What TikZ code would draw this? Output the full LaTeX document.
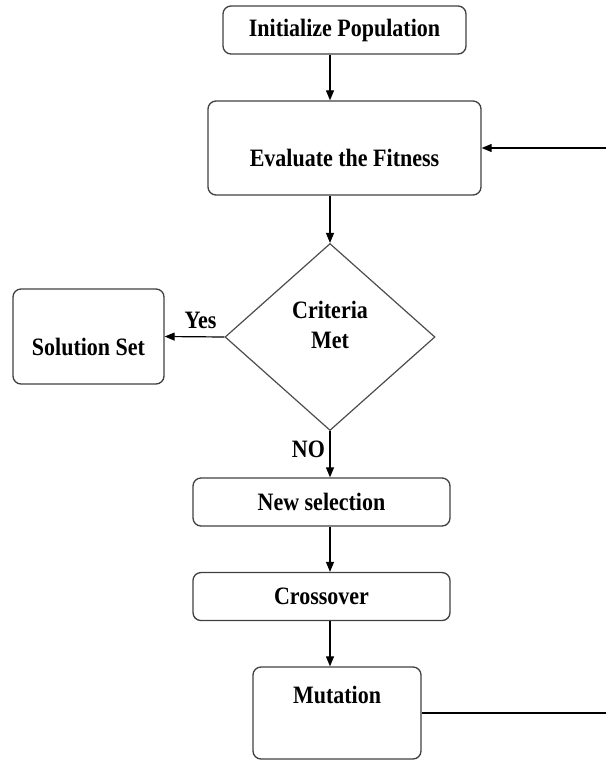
\documentclass[tikz,border=0pt]{standalone}
\usepackage{fontspec}
\setmainfont{Liberation Serif}[FakeStretch=0.88]
\usetikzlibrary{shapes.geometric,arrows.meta}

\tikzset{
  box/.style={draw=black!75, line width=1pt, rounded corners=6pt, inner sep=0pt},
  test/.style={diamond, draw=black!70, line width=0.9pt, inner sep=0pt},
  flow/.style={-{Triangle[length=7.5pt,width=6pt]}, line width=0.9pt},
}

\begin{document}
\begin{tikzpicture}[x=0.75pt,y=-0.75pt,font=\fontsize{18.75}{22.5}\selectfont\bfseries]
\useasboundingbox (0,0) rectangle (606,760);
\node [box, minimum width=182.25pt, minimum height=36pt] (init) at (344.5,30) {Initialize Population};
\node [box, below of=init, node distance=88.5pt, minimum width=204.75pt, minimum height=70.5pt,
       label={[yshift=-7.5pt]center:Evaluate the Fitness}] (eval) {};
\node [test, minimum width=157.5pt, minimum height=140.25pt,
       label={[yshift=9pt,align=center]center:Criteria\\Met}] (crit) at (330,337) {};
\node [box, minimum width=113.25pt, minimum height=71.25pt,
       label={[yshift=-7.5pt]center:Solution Set}] (sol) at (88.5,336.5) {};
\node [box, minimum width=192.75pt, minimum height=36pt] (sel) at (321.5,502) {New selection};
\node [box, below of=sel, node distance=70.9pt, minimum width=192.75pt, minimum height=36pt] (cross) {Crossover};
\node [box, minimum width=126pt, minimum height=69pt,
       label={[yshift=13.5pt]center:Mutation}] (mut) at (337,713) {};
% loop back, its upright part lies past the right edge
\coordinate (fbbot) at (609,713);
\coordinate (fbtop) at (609,148);
\draw [flow] (init.south -| crit.north) -- (eval.north -| crit.north);
\draw [flow] (eval.south -| crit.north) -- (crit.north);
\draw [flow] (crit.west) -- node [above, pos=0.4, yshift=2pt] (yes) {Yes} (sol.east);
\draw [flow] (crit.south) -- node [left, pos=0.4] (no) {NO} (sel.north -| crit.south);
\draw [flow] (sel.south -| crit.south) -- (cross.north -| crit.south);
\draw [flow] (cross.south -| crit.south) -- (mut.north -| crit.south);
\draw [line width=0.9pt] (mut.east) -- (fbbot) -- (fbtop);
\draw [flow] (fbtop) -- (eval.east);
\end{tikzpicture}
\end{document}
